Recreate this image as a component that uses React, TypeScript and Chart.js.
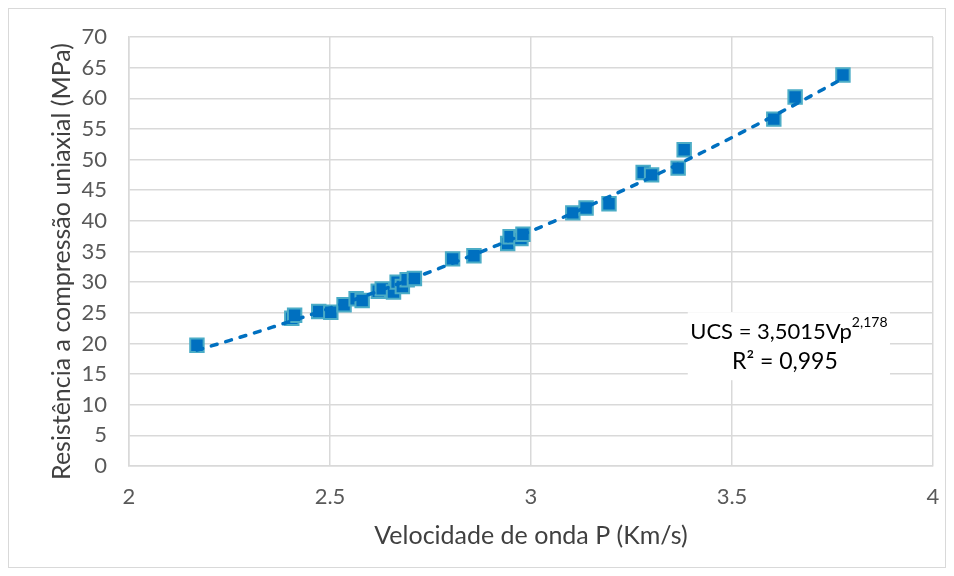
import React, { useEffect, useRef } from "react";
import { Chart, registerables } from "chart.js";

Chart.register(...registerables);

// Measured data: P-wave velocity (km/s) vs uniaxial compressive strength (MPa)
const velocityKmS = [
  2.169, 2.405, 2.412, 2.472, 2.502, 2.535, 2.565, 2.58, 2.62, 2.63, 2.658,
  2.667, 2.68, 2.692, 2.71, 2.805, 2.858, 2.942, 2.948, 2.975, 2.98, 3.104,
  3.137, 3.194, 3.279, 3.3, 3.366, 3.381, 3.604, 3.657, 3.776,
];
const ucsMPa = [
  19.7, 24.1, 24.6, 25.2, 25.1, 26.3, 27.3, 27.0, 28.5, 28.9, 28.4, 30.0,
  29.3, 30.4, 30.6, 33.8, 34.3, 36.3, 37.4, 37.1, 37.8, 41.3, 42.1, 42.8,
  47.9, 47.5, 48.6, 51.6, 56.6, 60.2, 63.8,
];

// Power trendline shown on the chart: UCS = 3,5015 Vp^2,178
const trendCoef = 3.5015;
const trendExp = 2.178;
const trendLabelLine1 = "UCS = 3,5015Vp";
const trendLabelSup = "2,178";
const trendLabelLine2 = "R² = 0,995";

const xTicks = [2, 2.5, 3, 3.5, 4];
const yTicks = [0, 5, 10, 15, 20, 25, 30, 35, 40, 45, 50, 55, 60, 65, 70];

const xTitle = "Velocidade de onda P (Km/s)";
const yTitle = "Resistência a compressão uniaxial (MPa)";

const FONT = "Lato, 'Open Sans', sans-serif";

export default function App() {
  const ref = useRef<HTMLCanvasElement | null>(null);

  useEffect(() => {
    if (!ref.current) return;
    const xMin = Math.min(...velocityKmS);
    const xMax = Math.max(...velocityKmS);
    const trendPts: { x: number; y: number }[] = [];
    const n = 60;
    for (let i = 0; i <= n; i++) {
      const x = xMin + ((xMax - xMin) * i) / n;
      trendPts.push({ x, y: trendCoef * Math.pow(x, trendExp) });
    }

    const extras = {
      id: "extras",
      afterDraw(chart: any) {
        const { ctx, chartArea } = chart;
        ctx.save();
        ctx.fillStyle = "#404040";
        ctx.font = `25px ${FONT}`;
        ctx.textAlign = "center";
        ctx.textBaseline = "middle";
        ctx.translate(53, (chartArea.top + chartArea.bottom) / 2 + 10);
        ctx.rotate(-Math.PI / 2);
        ctx.fillText(yTitle, 0, 0);
        ctx.restore();
      },
      afterDatasetsDraw(chart: any) {
        const { ctx, scales } = chart;
        const xs = scales.x;
        const ys = scales.y;
        const l = xs.getPixelForValue(3.39);
        const r = xs.getPixelForValue(3.893);
        const t = ys.getPixelForValue(25.1);
        const b = ys.getPixelForValue(14.0);
        ctx.save();
        ctx.fillStyle = "#ffffff";
        ctx.fillRect(l, t, r - l, b - t);
        ctx.fillStyle = "#000000";
        ctx.textBaseline = "alphabetic";
        const cx = (l + r) / 2;
        ctx.font = `22px ${FONT}`;
        const w1 = ctx.measureText(trendLabelLine1).width;
        ctx.font = `14px ${FONT}`;
        const wSup = ctx.measureText(trendLabelSup).width;
        const start = cx - (w1 + wSup) / 2;
        ctx.font = `22px ${FONT}`;
        ctx.textAlign = "left";
        ctx.fillText(trendLabelLine1, start, t + 27);
        ctx.font = `14px ${FONT}`;
        ctx.fillText(trendLabelSup, start + w1, t + 15);
        ctx.font = `23px ${FONT}`;
        ctx.textAlign = "center";
        ctx.fillText(trendLabelLine2, cx - 4, t + 57);
        ctx.restore();
      },
    };

    const chart = new Chart(ref.current, {
      type: "scatter",
      data: {
        datasets: [
          {
            type: "line",
            label: "Trend",
            data: trendPts,
            borderColor: "#0070c0",
            borderWidth: 3.5,
            borderDash: [6, 9],
            borderCapStyle: "round",
            pointRadius: 0,
            fill: false,
            tension: 0,
          },
          {
            label: "UCS",
            data: velocityKmS.map((x, i) => ({ x, y: ucsMPa[i] })),
            pointStyle: "rect",
            pointRadius: 9.5,
            pointBorderWidth: 2,
            backgroundColor: "#0070c0",
            borderColor: "#4bacc6",
            showLine: false,
          },
        ],
      },
      options: {
        animation: false,
        responsive: true,
        maintainAspectRatio: false,
        layout: { padding: { top: 28, right: 12, left: 0, bottom: 0 } },
        plugins: {
          legend: { display: false },
          tooltip: { enabled: false },
        },
        scales: {
          x: {
            type: "linear",
            min: 2,
            max: 4,
            afterBuildTicks: (s: any) => {
              s.ticks = xTicks.map((v) => ({ value: v }));
            },
            afterFit: (s: any) => {
              s.height = 101;
            },
            ticks: {
              padding: 2,
              color: "#595959",
              font: { family: FONT, size: 22 },
              callback: (v: any) => String(v),
            },
            grid: {
              color: "#d9d9d9",
              lineWidth: 1.5,
              drawTicks: true,
              tickLength: 16,
              tickColor: "rgba(0,0,0,0)",
            },
            border: { color: "#d9d9d9", width: 1.5 },
            title: {
              display: true,
              text: xTitle,
              color: "#404040",
              font: { family: FONT, size: 25 },
              padding: { top: 0, bottom: 16 },
            },
          },
          y: {
            type: "linear",
            min: 0,
            max: 70,
            afterBuildTicks: (s: any) => {
              s.ticks = yTicks.map((v) => ({ value: v }));
            },
            afterFit: (s: any) => {
              s.width = 120;
            },
            ticks: {
              padding: 2,
              color: "#595959",
              font: { family: FONT, size: 22 },
            },
            grid: {
              color: "#d9d9d9",
              lineWidth: 1.5,
              drawTicks: true,
              tickLength: 20,
              tickColor: "rgba(0,0,0,0)",
            },
            border: { color: "#d9d9d9", width: 1.5 },
            title: { display: false, text: yTitle },
          },
        },
      },
      plugins: [extras],
    } as any);
    return () => chart.destroy();
  }, []);

  return (
    <div
      style={{
        width: 938,
        height: 560,
        border: "1px solid #d9d9d9",
        boxSizing: "border-box",
        background: "#fff",
        position: "relative",
      }}
    >
      <canvas ref={ref} />
    </div>
  );
}
